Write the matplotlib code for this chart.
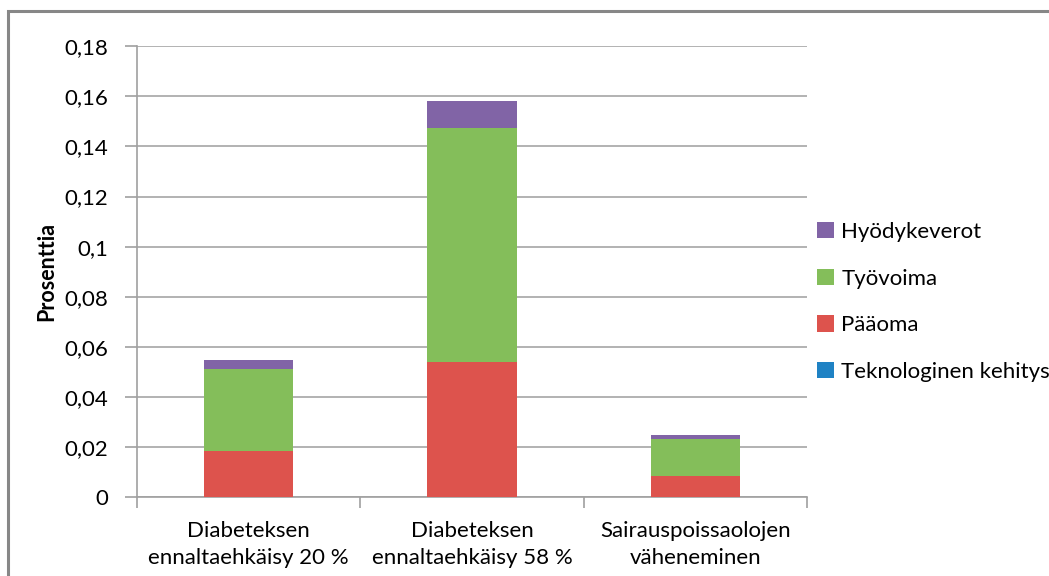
import matplotlib
matplotlib.use("Agg")
import matplotlib.pyplot as plt
from matplotlib.patches import Rectangle
from matplotlib.ticker import FixedLocator, FuncFormatter

# Data
categories = ["Diabeteksen\nennaltaehkäisy 20 %", "Diabeteksen\nennaltaehkäisy 58 %", "Sairauspoissaolojen\nväheneminen"]
teknologinen = [0.0, 0.0, 0.0]
paaoma = [0.0184, 0.0538, 0.0085]
tyovoima = [0.0326, 0.0936, 0.0147]
hyodykeverot = [0.0038, 0.0106, 0.0016]

series_names = ["Teknologinen kehitys", "Pääoma", "Työvoima", "Hyödykeverot"]
series_values = [teknologinen, paaoma, tyovoima, hyodykeverot]
colors = ["#1F82C4", "#DD534D", "#84BE5A", "#8164A6"]

plt.rcParams["font.family"] = ["Lato", "DejaVu Sans"]

fig = plt.figure(figsize=(10.49, 5.76), dpi=100)
ax = fig.add_axes([137 / 1049, 1 - 497 / 576, (807 - 137) / 1049, (497 - 46.3) / 576])

# outer chart border
fig.patches.append(Rectangle((8 / 1049, -0.1), 1.2, 1 - 11 / 576 + 0.1, transform=fig.transFigure,
                             fill=False, edgecolor="#878787", linewidth=2.2))

x = list(range(len(categories)))
bottom = [0.0] * len(categories)
handles = []
for name, vals, c in zip(series_names, series_values, colors):
    b = ax.bar(x, vals, width=0.4, bottom=bottom, color=c, label=name, zorder=3)
    handles.append(b)
    bottom = [bt + v for bt, v in zip(bottom, vals)]

ax.set_xlim(-0.5, 2.5)
ax.set_ylim(0, 0.18)
ax.yaxis.set_major_locator(FixedLocator([i * 0.02 for i in range(10)]))
ax.yaxis.set_major_formatter(FuncFormatter(lambda v, p: "0" if abs(v) < 1e-9 else ("%g" % round(v, 2)).replace(".", ",")))
ax.grid(axis="y", color="#A6A6A6", linewidth=1.2, zorder=0)

ax.set_xticks(x)
ax.set_xticklabels(categories, fontsize=16, linespacing=1.45)
ax.set_xticks([-0.5, 0.5, 1.5, 2.5], minor=True)
ax.tick_params(axis="x", which="major", length=0, pad=17)
ax.tick_params(axis="x", which="minor", length=8, color="#A0A0A0", width=1.2)
ax.tick_params(axis="y", length=9, color="#A0A0A0", width=1.2, labelsize=16, pad=12)

for s in ["top", "right"]:
    ax.spines[s].set_visible(False)
for s in ["left", "bottom"]:
    ax.spines[s].set_color("#A0A0A0")
    ax.spines[s].set_linewidth(1.2)

ax.set_ylabel("Prosenttia", fontsize=15.5, fontweight="bold", labelpad=5)

leg = fig.legend(handles[::-1], series_names[::-1], loc="center left",
                 bbox_to_anchor=(797 / 1049, 1 - 302 / 576), frameon=False, fontsize=16,
                 handlelength=0.75, handleheight=0.75, handletextpad=0.35, labelspacing=1.2)

fig.savefig("out.png", dpi=100)
